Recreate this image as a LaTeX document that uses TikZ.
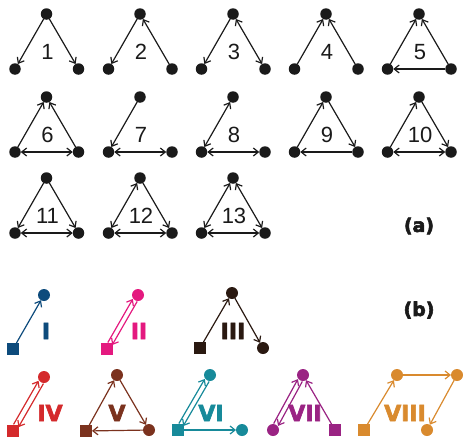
\documentclass[tikz,border=0pt]{standalone}
\usepackage{fontspec}
\setmainfont{Liberation Sans}
\newfontfamily\heavyfont{DejaVu Sans}[BoldFeatures={FakeBold=3}]
\usetikzlibrary{arrows.meta,calc}
\definecolor{ink}{HTML}{1A1A1A}
\definecolor{cI}{HTML}{0D4B7C}
\definecolor{cII}{HTML}{E4197F}
\definecolor{cIII}{HTML}{2A1911}
\definecolor{cIV}{HTML}{D42A2C}
\definecolor{cV}{HTML}{7B321E}
\definecolor{cVI}{HTML}{178A9A}
\definecolor{cVII}{HTML}{9A2383}
\definecolor{cVIII}{HTML}{D98A2E}
\tikzset{
  dot/.style={circle,fill=ink,inner sep=0pt,outer sep=0pt,minimum size=11.5pt},
  bdot/.style={circle,fill=#1,inner sep=0pt,outer sep=0pt,minimum size=12pt},
  bsq/.style={rectangle,fill=#1,inner sep=0pt,outer sep=0pt,minimum size=12pt},
  arr/.style={draw=ink,line width=1.2pt,-{Straight Barb[length=5pt,width=8pt]}},
  barr/.style={draw=ink,line width=1.2pt,{Straight Barb[length=5pt,width=8pt]}-{Straight Barb[length=5pt,width=8pt]}},
  carr/.style={draw=#1,line width=1.2pt,-{Straight Barb[length=5pt,width=8pt]}},
  num/.style={font=\fontsize{22}{22}\selectfont,text=ink,inner sep=0pt},
  rom/.style={font=\heavyfont\bfseries\fontsize{22}{22}\selectfont,text=#1,inner sep=0pt},
  panel/.style={font=\heavyfont\bfseries\fontsize{19}{19}\selectfont,text=ink,inner sep=0pt}
}
\begin{document}
\begin{tikzpicture}[x=1pt,y=-1pt]
\useasboundingbox (0,0) rectangle (463,439);
% ---------- (a) motifs ----------
\foreach \i/\x/\y in {1/46.5/14,2/140/14,3/233/14,4/326/14,5/419/14,
                      6/46.5/97,7/140/97,8/233/97,9/326/97,10/419/97,
                      11/46.5/178,12/140/178,13/233/178}{
  \node[dot] (t\i) at (\x,\y) {};
  \node[dot] (l\i) at (\x-31.5,\y+55) {};
  \node[dot] (r\i) at (\x+32,\y+55) {};
  \node[num] (n\i) at (\x+1,\y+38) {\i};
}
% 1
\draw[arr] (t1) -- (l1); \draw[arr] (t1) -- (r1);
% 2
\draw[arr] (t2) -- (l2); \draw[arr] (r2) -- (t2);
% 3
\draw[arr] (t3) -- (l3); \draw[barr] (t3) -- (r3);
% 4
\draw[arr] (l4) -- (t4); \draw[arr] (r4) -- (t4);
% 5
\draw[arr] (l5) -- (t5); \draw[arr] (r5) -- (t5); \draw[arr] (r5) -- (l5);
% 6
\draw[arr] (l6) -- (t6); \draw[arr] (r6) -- (t6); \draw[barr] (l6) -- (r6);
% 7
\draw[arr] (t7) -- (l7); \draw[barr] (l7) -- (r7);
% 8
\draw[barr] (t8) -- (l8); \draw[barr] (l8) -- (r8);
% 9
\draw[arr] (l9) -- (t9); \draw[arr] (t9) -- (r9); \draw[arr] (r9) -- (l9);
% 10
\draw[arr] (l10) -- (t10); \draw[arr] (t10) -- (r10); \draw[barr] (l10) -- (r10);
% 11
\draw[arr] (t11) -- (l11); \draw[arr] (t11) -- (r11); \draw[barr] (l11) -- (r11);
% 12
\draw[barr] (t12) -- (l12); \draw[arr] (t12) -- (r12); \draw[barr] (l12) -- (r12);
% 13
\draw[barr] (t13) -- (l13); \draw[barr] (t13) -- (r13); \draw[barr] (l13) -- (r13);
\node[panel] (pa) at (419,226) {(a)};
\node[panel] (pb) at (419,310) {(b)};
% ---------- (b) motifs ----------
% I
\node[bsq=cI] (sI) at (13,349) {};
\node[bdot=cI] (cIa) at (44,295) {};
\draw[carr=cI] (sI) -- (cIa);
\node[rom=cI] (lI) at (46,331) {I};
% II
\node[bsq=cII] (sII) at (107,349) {};
\node[bdot=cII] (cIIa) at (138,295) {};
\draw[carr=cII,shorten <=6pt,shorten >=6pt] ($(sII)!2.5pt!90:(cIIa)$) -- ($(cIIa)!2.5pt!-90:(sII)$);
\draw[carr=cII,shorten <=6pt,shorten >=6pt] ($(cIIa)!2.5pt!90:(sII)$) -- ($(sII)!2.5pt!-90:(cIIa)$);
\node[rom=cII] (lII) at (139,331) {II};
% III
\node[bsq=cIII] (sIII) at (200,348) {};
\node[bdot=cIII] (tIII) at (232,293) {};
\node[bdot=cIII] (rIII) at (263,348) {};
\draw[carr=cIII] (sIII) -- (tIII);
\draw[carr=cIII] (tIII) -- (rIII);
\node[rom=cIII] (lIII) at (233,331) {III};
% IV
\node[bsq=cIV] (sIV) at (13,431) {};
\node[bdot=cIV] (cIVa) at (44,377) {};
\draw[carr=cIV,shorten <=6pt,shorten >=6pt] ($(sIV)!2.8pt!90:(cIVa)$) -- ($(cIVa)!2.8pt!-90:(sIV)$);
\draw[carr=cIV,shorten <=6pt,shorten >=6pt] ($(cIVa)!2.8pt!90:(sIV)$) -- ($(sIV)!2.8pt!-90:(cIVa)$);
\node[rom=cIV] (lIV) at (50,413) {IV};
% V
\node[bsq=cV] (sV) at (86,431) {};
\node[bdot=cV] (tV) at (117,375) {};
\node[bdot=cV] (rV) at (149,430) {};
\draw[carr=cV] (sV) -- (tV);
\draw[carr=cV] (tV) -- (rV);
\draw[carr=cV] (rV) -- (sV);
\node[rom=cV] (lV) at (117,413) {V};
% VI
\node[bsq=cVI] (sVI) at (178,430) {};
\node[bdot=cVI] (tVI) at (210,375) {};
\node[bdot=cVI] (rVI) at (242,430) {};
\draw[carr=cVI,shorten <=6pt,shorten >=6pt] ($(sVI)!2.5pt!90:(tVI)$) -- ($(tVI)!2.5pt!-90:(sVI)$);
\draw[carr=cVI,shorten <=6pt,shorten >=6pt] ($(tVI)!2.5pt!90:(sVI)$) -- ($(sVI)!2.5pt!-90:(tVI)$);
\draw[carr=cVI] (sVI) -- (rVI);
\node[rom=cVI] (lVI) at (211,413) {VI};
% VII
\node[bdot=cVII] (lVIIa) at (273,430) {};
\node[bdot=cVII] (tVII) at (303,375) {};
\node[bsq=cVII] (sVII) at (335,430) {};
\draw[carr=cVII,shorten <=6pt,shorten >=6pt] ($(lVIIa)!2.5pt!90:(tVII)$) -- ($(tVII)!2.5pt!-90:(lVIIa)$);
\draw[carr=cVII,shorten <=6pt,shorten >=6pt] ($(tVII)!2.5pt!90:(lVIIa)$) -- ($(lVIIa)!2.5pt!-90:(tVII)$);
\draw[carr=cVII] (sVII) -- (tVII);
\node[rom=cVII] (lVII) at (305,413) {VII};
% VIII
\node[bsq=cVIII] (sVIII) at (364,430) {};
\node[bdot=cVIII] (tlVIII) at (397,375) {};
\node[bdot=cVIII] (trVIII) at (457,375) {};
\node[bdot=cVIII] (bVIII) at (427,430) {};
\draw[carr=cVIII] (sVIII) -- (tlVIII);
\draw[carr=cVIII] (tlVIII) -- (trVIII);
\draw[carr=cVIII] (trVIII) -- (bVIII);
\node[rom=cVIII] (lVIII) at (405,413) {VIII};
\end{tikzpicture}
\end{document}
